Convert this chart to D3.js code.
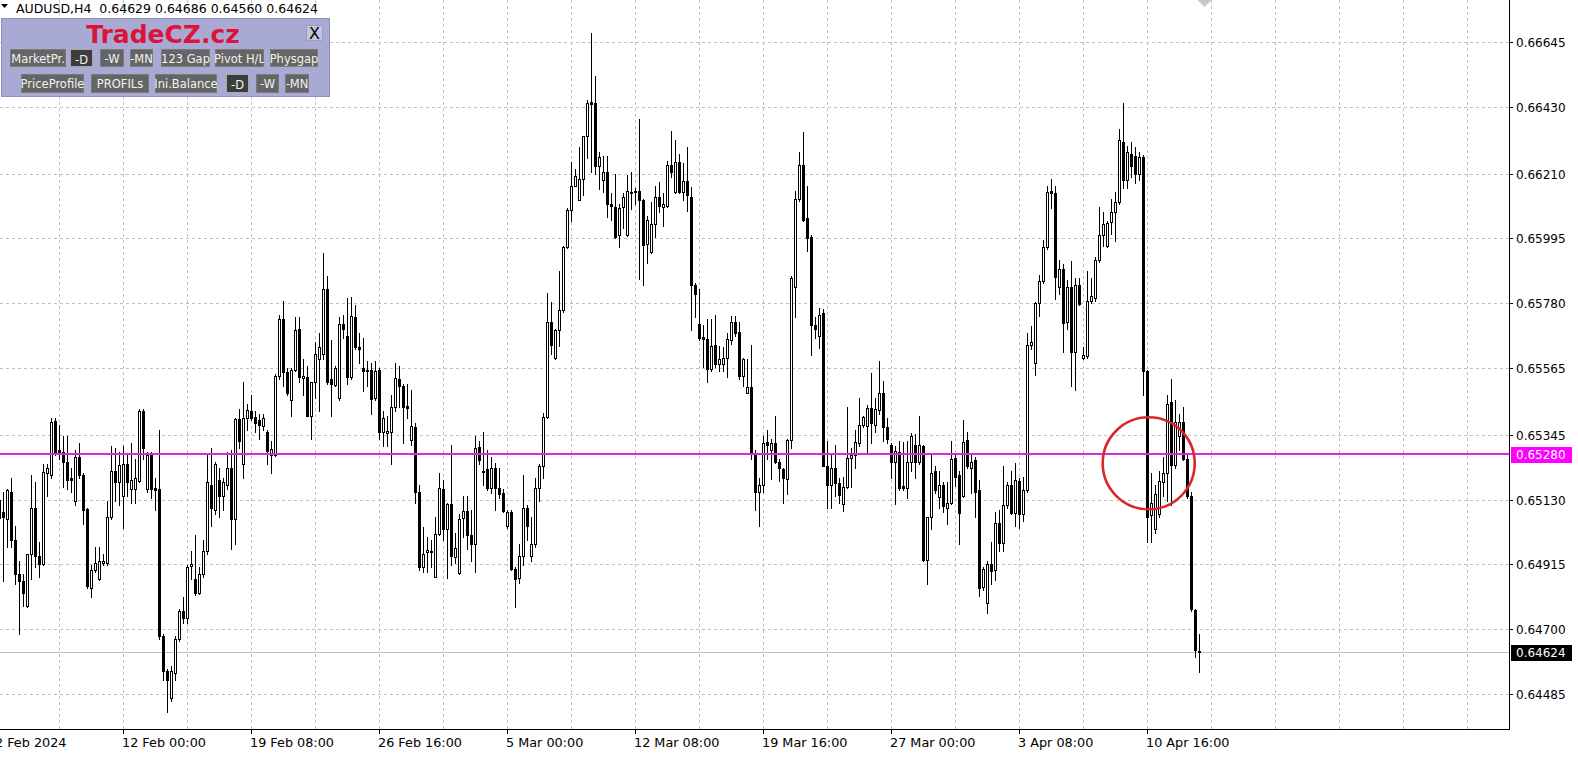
<!DOCTYPE html>
<html><head><meta charset="utf-8">
<script src="https://cdn.jsdelivr.net/npm/d3@7"></script>
<style>
html,body{margin:0;padding:0;background:#fff;overflow:hidden}
svg{display:block}
text{font-family:"DejaVu Sans",sans-serif}
</style></head><body>
<svg id="c" width="1578" height="758"></svg>
<script>
// ---------------- DATA ----------------
const headerSymbol = "AUDUSD,H4";
const headerOHLC = ["0.64629", "0.64686", "0.64560", "0.64624"];

// H4 bars, first (partly hidden) bar = index 0, last bar = 12 Apr 2024 16:00
const opens = [
0.65129,0.65088,0.65065,0.65156,0.64997,0.64882,0.64859,0.64776,0.64950,0.65103,
0.64943,0.64915,0.65217,0.65210,0.65391,0.65293,0.65286,0.65255,0.65202,0.65126,
0.65270,0.65210,0.65099,0.64836,0.64897,0.64867,0.64920,0.64920,0.65073,0.65225,
0.65187,0.65141,0.65248,0.65164,0.65164,0.65190,0.65422,0.65164,0.65278,0.65169,
0.65164,0.64677,0.64563,0.64472,0.64555,0.64669,0.64760,0.64738,0.64909,0.64867,
0.64821,0.64882,0.64958,0.65179,0.65096,0.65195,0.65141,0.65179,0.65233,0.65065,
0.65397,0.65248,0.65400,0.65422,0.65403,0.65392,0.65372,0.65354,0.65278,0.65278,
0.65540,0.65727,0.65552,0.65461,0.65559,0.65696,0.65534,0.65537,0.65407,0.65518,
0.65597,0.65613,0.65826,0.65529,0.65509,0.65468,0.65711,0.65673,0.65537,0.65735,
0.65635,0.65567,0.65559,0.65559,0.65468,0.65559,0.65354,0.65351,0.65354,0.65438,
0.65529,0.65506,0.65439,0.65327,0.65369,0.65156,0.64905,0.64955,0.64955,0.64874,
0.65017,0.65164,0.65032,0.65114,0.64940,0.64885,0.65068,0.65093,0.65012,0.64982,
0.65305,0.65220,0.65230,0.65169,0.65233,0.65169,0.65153,0.65043,0.65088,0.64900,
0.64870,0.64943,0.65103,0.64943,0.64982,0.65169,0.65240,0.65403,0.65719,0.65600,
0.65692,0.65758,0.65966,0.66091,0.66170,0.66123,0.66191,0.66333,0.66448,0.66443,
0.66234,0.66188,0.66214,0.66108,0.66100,0.66006,0.66100,0.66006,0.66146,0.66149,
0.66153,0.66123,0.65978,0.65951,0.66042,0.66133,0.66100,0.66103,0.66237,0.66149,
0.66249,0.66149,0.66186,0.66133,0.65842,0.65710,0.65670,0.65661,0.65564,0.65643,
0.65579,0.65579,0.65600,0.65658,0.65719,0.65686,0.65540,0.65483,0.65503,0.65278,
0.65156,0.65179,0.65321,0.65293,0.65316,0.65255,0.65230,0.65199,0.65327,0.65834,
0.66127,0.66237,0.66062,0.66001,0.65707,0.65673,0.65747,0.65240,0.65179,0.65236,
0.65184,0.65114,0.65172,0.65266,0.65278,0.65316,0.65377,0.65372,0.65433,0.65377,
0.65427,0.65483,0.65369,0.65312,0.65255,0.65286,0.65175,0.65169,0.65255,0.65312,
0.65255,0.65309,0.64931,0.65073,0.65225,0.65138,0.65179,0.65103,0.65118,0.65266,
0.65210,0.65141,0.65327,0.65236,0.65260,0.65160,0.64839,0.64788,0.64915,0.64897,
0.65053,0.64986,0.65111,0.65179,0.65084,0.65190,0.65081,0.65160,0.65643,0.65582,
0.65781,0.65854,0.65966,0.66153,0.66146,0.65834,0.65895,0.65719,0.65834,0.65620,
0.65842,0.65600,0.65605,0.65788,0.65799,0.65925,0.66006,0.65971,0.66051,0.66082,
0.66115,0.66316,0.66188,0.66275,0.66267,0.66210,0.66264,0.65555,0.65078,0.65032,
0.65081,0.65187,0.65217,0.65453,0.65245,0.65342,0.65388,0.65263,0.65141,0.64763,
0.64629];
const highs = [
0.65141,0.65156,0.65164,0.65202,0.65043,0.64928,0.64882,0.64950,0.65210,0.65187,
0.64989,0.65248,0.65248,0.65400,0.65400,0.65377,0.65339,0.65339,0.65233,0.65293,
0.65316,0.65217,0.65103,0.64912,0.64974,0.64974,0.64950,0.65126,0.65309,0.65301,
0.65286,0.65309,0.65278,0.65316,0.65263,0.65430,0.65430,0.65286,0.65286,0.65202,
0.65362,0.64684,0.64570,0.64578,0.64677,0.64768,0.64806,0.64912,0.64958,0.65012,
0.64905,0.64997,0.65278,0.65301,0.65255,0.65233,0.65202,0.65286,0.65293,0.65400,
0.65430,0.65521,0.65445,0.65476,0.65422,0.65415,0.65415,0.65362,0.65324,0.65547,
0.65743,0.65788,0.65567,0.65567,0.65735,0.65735,0.65597,0.65574,0.65521,0.65651,
0.65681,0.65948,0.65872,0.65658,0.65574,0.65735,0.65743,0.65799,0.65802,0.65773,
0.65681,0.65666,0.65590,0.65582,0.65590,0.65567,0.65422,0.65407,0.65476,0.65582,
0.65574,0.65514,0.65512,0.65494,0.65385,0.65179,0.65038,0.65005,0.64997,0.65073,
0.65217,0.65195,0.65118,0.65312,0.65020,0.65081,0.65141,0.65141,0.65096,0.65339,
0.65324,0.65354,0.65293,0.65270,0.65251,0.65236,0.65164,0.65096,0.65096,0.64905,
0.64982,0.65210,0.65111,0.65073,0.65202,0.65248,0.65418,0.65814,0.65784,0.65696,
0.65887,0.65971,0.66095,0.66249,0.66226,0.66298,0.66336,0.66454,0.66675,0.66534,
0.66282,0.66267,0.66267,0.66146,0.66210,0.66108,0.66146,0.66206,0.66214,0.66161,
0.66390,0.66127,0.66070,0.66115,0.66168,0.66183,0.66146,0.66252,0.66352,0.66320,
0.66275,0.66244,0.66298,0.66164,0.65849,0.65826,0.65707,0.65727,0.65727,0.65743,
0.65640,0.65635,0.65681,0.65738,0.65738,0.65719,0.65600,0.65597,0.65643,0.65293,
0.65202,0.65339,0.65362,0.65331,0.65407,0.65263,0.65236,0.65331,0.65872,0.66153,
0.66282,0.66347,0.66168,0.66006,0.65735,0.65765,0.65762,0.65324,0.65278,0.65312,
0.65202,0.65205,0.65438,0.65301,0.65362,0.65468,0.65407,0.65442,0.65549,0.65468,
0.65590,0.65524,0.65400,0.65316,0.65309,0.65324,0.65321,0.65324,0.65351,0.65346,
0.65407,0.65312,0.65073,0.65278,0.65240,0.65225,0.65187,0.65187,0.65324,0.65278,
0.65225,0.65392,0.65354,0.65278,0.65270,0.65195,0.64905,0.64925,0.64989,0.65088,
0.65096,0.65240,0.65187,0.65225,0.65251,0.65202,0.65205,0.65681,0.65704,0.65784,
0.65875,0.65991,0.66168,0.66191,0.66168,0.65925,0.65910,0.65857,0.65920,0.65864,
0.65864,0.65635,0.65887,0.65864,0.65933,0.66100,0.66082,0.66054,0.66127,0.66149,
0.66359,0.66443,0.66301,0.66313,0.66298,0.66282,0.66270,0.65559,0.65217,0.65179,
0.65225,0.65270,0.65476,0.65529,0.65461,0.65415,0.65438,0.65278,0.65156,0.64768,
0.64686];
const lows = [
0.65035,0.64859,0.64974,0.64974,0.64851,0.64684,0.64776,0.64773,0.64867,0.64905,
0.64874,0.64912,0.65141,0.65202,0.65278,0.65263,0.65172,0.65164,0.65156,0.65111,
0.65202,0.65050,0.64836,0.64806,0.64890,0.64864,0.64912,0.64912,0.65065,0.65126,
0.65111,0.65035,0.65141,0.65118,0.65118,0.65187,0.65263,0.65156,0.65134,0.65096,
0.64669,0.64532,0.64426,0.64464,0.64532,0.64661,0.64722,0.64722,0.64867,0.64813,
0.64818,0.64874,0.64950,0.65043,0.65081,0.65073,0.65096,0.65164,0.64966,0.64982,
0.65301,0.65202,0.65362,0.65392,0.65354,0.65331,0.65362,0.65248,0.65217,0.65275,
0.65529,0.65506,0.65476,0.65407,0.65555,0.65521,0.65476,0.65407,0.65331,0.65468,
0.65422,0.65597,0.65514,0.65407,0.65506,0.65461,0.65666,0.65514,0.65529,0.65628,
0.65582,0.65491,0.65506,0.65415,0.65461,0.65331,0.65309,0.65309,0.65248,0.65422,
0.65438,0.65316,0.65400,0.65312,0.65118,0.64897,0.64890,0.64890,0.64905,0.64873,
0.65012,0.64997,0.64870,0.64912,0.64920,0.64882,0.65005,0.64966,0.64928,0.64890,
0.65248,0.65179,0.65160,0.65153,0.65096,0.65134,0.65088,0.65035,0.64897,0.64773,
0.64855,0.64912,0.64997,0.64928,0.64974,0.65126,0.65202,0.65400,0.65613,0.65597,
0.65640,0.65753,0.65963,0.66054,0.66168,0.66121,0.66138,0.66260,0.66214,0.66210,
0.66158,0.66149,0.66066,0.66057,0.65997,0.65966,0.66031,0.66003,0.66092,0.66108,
0.65860,0.65842,0.65914,0.65948,0.66001,0.66082,0.66036,0.66100,0.66199,0.66146,
0.66146,0.66123,0.66085,0.65692,0.65735,0.65658,0.65570,0.65521,0.65555,0.65570,
0.65555,0.65555,0.65537,0.65646,0.65673,0.65529,0.65506,0.65482,0.65263,0.65096,
0.65043,0.65156,0.65263,0.65199,0.65251,0.65190,0.65118,0.65149,0.65301,0.65735,
0.66118,0.66054,0.65955,0.65609,0.65666,0.65631,0.65240,0.65103,0.65103,0.65141,
0.65118,0.65093,0.65169,0.65172,0.65233,0.65309,0.65369,0.65281,0.65316,0.65354,
0.65415,0.65324,0.65316,0.65202,0.65114,0.65160,0.65160,0.65134,0.65225,0.65202,
0.65248,0.64925,0.64851,0.65032,0.65153,0.65103,0.65088,0.65050,0.65114,0.65175,
0.64982,0.65138,0.65233,0.65153,0.65073,0.64809,0.64829,0.64753,0.64851,0.64864,
0.64958,0.64958,0.65103,0.65081,0.65043,0.65035,0.65058,0.65156,0.65628,0.65544,
0.65738,0.65849,0.65960,0.66097,0.65793,0.65811,0.65620,0.65696,0.65506,0.65494,
0.65773,0.65597,0.65600,0.65781,0.65788,0.65918,0.65971,0.65966,0.66009,0.65986,
0.66108,0.66161,0.66161,0.66199,0.66179,0.66188,0.65476,0.64989,0.64989,0.65020,
0.65073,0.65141,0.65126,0.65111,0.65233,0.65293,0.65260,0.65134,0.64760,0.64608,
0.64560];
const closes = [
0.65068,0.65073,0.65160,0.64997,0.64882,0.64859,0.64821,0.64950,0.65103,0.64943,
0.64915,0.65220,0.65233,0.65388,0.65286,0.65289,0.65255,0.65195,0.65195,0.65270,
0.65210,0.65096,0.64844,0.64897,0.64920,0.64928,0.64928,0.65073,0.65225,0.65187,
0.65245,0.65248,0.65187,0.65195,0.65202,0.65422,0.65301,0.65278,0.65164,0.65160,
0.64677,0.64563,0.64532,0.64563,0.64669,0.64760,0.64738,0.64905,0.64915,0.64821,
0.64882,0.64958,0.65187,0.65103,0.65248,0.65141,0.65187,0.65233,0.65065,0.65397,
0.65324,0.65400,0.65427,0.65400,0.65385,0.65377,0.65400,0.65290,0.65296,0.65540,
0.65727,0.65552,0.65483,0.65559,0.65692,0.65537,0.65540,0.65407,0.65518,0.65613,
0.65635,0.65826,0.65521,0.65514,0.65567,0.65711,0.65696,0.65537,0.65738,0.65635,
0.65628,0.65555,0.65555,0.65464,0.65555,0.65354,0.65400,0.65357,0.65438,0.65532,
0.65506,0.65438,0.65433,0.65372,0.65156,0.64905,0.64950,0.64962,0.64958,0.65017,
0.65169,0.65032,0.65114,0.64943,0.64971,0.65065,0.65093,0.65012,0.64982,0.65301,
0.65260,0.65225,0.65169,0.65233,0.65169,0.65149,0.65093,0.65088,0.64900,0.64867,
0.64943,0.65103,0.65043,0.64982,0.65169,0.65240,0.65403,0.65719,0.65643,0.65692,
0.65758,0.65966,0.66091,0.66170,0.66202,0.66191,0.66333,0.66443,0.66441,0.66234,
0.66264,0.66214,0.66108,0.66103,0.66001,0.66097,0.66133,0.66153,0.66149,0.66152,
0.66123,0.65975,0.66057,0.66042,0.66133,0.66103,0.66108,0.66237,0.66214,0.66249,
0.66149,0.66186,0.66138,0.65842,0.65811,0.65666,0.65661,0.65564,0.65640,0.65579,
0.65597,0.65600,0.65661,0.65719,0.65681,0.65540,0.65594,0.65503,0.65281,0.65156,
0.65179,0.65316,0.65312,0.65316,0.65255,0.65233,0.65202,0.65327,0.65864,0.66127,
0.66237,0.66057,0.65997,0.65707,0.65696,0.65743,0.65240,0.65179,0.65236,0.65184,
0.65144,0.65172,0.65266,0.65278,0.65321,0.65377,0.65403,0.65433,0.65385,0.65430,
0.65483,0.65369,0.65331,0.65255,0.65290,0.65169,0.65169,0.65255,0.65342,0.65255,
0.65312,0.64931,0.65073,0.65217,0.65160,0.65179,0.65108,0.65118,0.65263,0.65205,
0.65084,0.65321,0.65240,0.65255,0.65156,0.64836,0.64900,0.64915,0.64894,0.65053,
0.64986,0.65111,0.65179,0.65084,0.65195,0.65081,0.65160,0.65643,0.65651,0.65781,
0.65854,0.65966,0.66149,0.66146,0.65869,0.65895,0.65716,0.65834,0.65620,0.65842,
0.65778,0.65609,0.65788,0.65804,0.65925,0.66006,0.66042,0.66047,0.66082,0.66115,
0.66320,0.66188,0.66282,0.66234,0.66210,0.66264,0.65555,0.65073,0.65118,0.65149,
0.65190,0.65217,0.65448,0.65245,0.65388,0.65388,0.65263,0.65141,0.64768,0.64631,
0.64624];

const priceTicks = ["0.66645","0.66430","0.66210","0.65995","0.65780","0.65565","0.65345","0.65130","0.64915","0.64700","0.64485"];
const timeLabels = ["2 Feb 2024","12 Feb 00:00","19 Feb 08:00","26 Feb 16:00","5 Mar 00:00","12 Mar 08:00","19 Mar 16:00","27 Mar 00:00","3 Apr 08:00","10 Apr 16:00"];
const timeLabelBars = [0,31,63,95,127,159,191,223,255,287];
const levelPrice = 0.65280;      // magenta horizontal line
const lastPrice = 0.64624;       // current bid line
const circleBar = 287.3, circlePrice = 0.65250; // red ellipse marker centre

// ---------------- LAYOUT ----------------
const W = 1578, H = 758, plotR = 1509, plotB = 729;
const svg = d3.select("#c");
const x = d3.scaleLinear().domain([0, 1]).range([-0.5, 3.5]);   // 4 px per bar
const y = d3.scaleLinear().domain([0.64485, 0.66645]).range([694.2, 42.3]);
const row = v => Math.round(y(v));

svg.append("rect").attr("width", W).attr("height", H).attr("fill", "#fff");
const defs = svg.append("defs");
defs.append("clipPath").attr("id", "plotClip").append("rect").attr("x", 0).attr("y", 0).attr("width", plotR).attr("height", plotB);

const plot = svg.append("g").attr("clip-path", "url(#plotClip)");

// grid
const gridColor = "#c0c0c0";
const gridBars = d3.range(15, 376, 16);
plot.append("g").selectAll("line").data(gridBars).join("line")
  .attr("x1", d => x(d)).attr("x2", d => x(d)).attr("y1", 0).attr("y2", plotB)
  .attr("stroke", gridColor).attr("stroke-width", 1).attr("stroke-dasharray", "3,3");
plot.append("g").selectAll("line").data(priceTicks).join("line")
  .attr("x1", 0).attr("x2", plotR).attr("y1", d => row(+d) + 0.5).attr("y2", d => row(+d) + 0.5)
  .attr("stroke", gridColor).attr("stroke-width", 1).attr("stroke-dasharray", "3,3");

// current price line (behind candles)
plot.append("line").attr("x1", 0).attr("x2", plotR)
  .attr("y1", row(lastPrice) + 0.5).attr("y2", row(lastPrice) + 0.5)
  .attr("stroke", "#c0c0c0").attr("stroke-width", 1);

// candles
const bars = d3.range(opens.length).map(i => ({i, o: opens[i], h: highs[i], l: lows[i], c: closes[i]}));
const cg = plot.append("g");
bars.forEach(b => {
  const cx = x(b.i);
  const hi = row(b.h), lo = row(b.l);
  cg.append("line").attr("x1", cx).attr("x2", cx).attr("y1", hi).attr("y2", lo + 1)
    .attr("stroke", "#000").attr("stroke-width", 1);
  const top = row(Math.max(b.o, b.c)), bot = row(Math.min(b.o, b.c));
  const bull = b.c >= b.o;
  if (bot > top) {
    cg.append("rect").attr("x", cx - 1).attr("y", top + 0.5).attr("width", 2).attr("height", bot - top)
      .attr("fill", bull ? "#fff" : "#000").attr("stroke", "#000").attr("stroke-width", 1);
  } else {
    cg.append("line").attr("x1", cx - 1.5).attr("x2", cx + 1.5).attr("y1", top + 0.5).attr("y2", top + 0.5)
      .attr("stroke", "#000").attr("stroke-width", 1);
  }
});

// magenta level line
plot.append("line").attr("x1", 0).attr("x2", plotR)
  .attr("y1", row(levelPrice)).attr("y2", row(levelPrice))
  .attr("stroke", "#dc28dc").attr("stroke-width", 2);

// red ellipse
svg.append("ellipse").attr("cx", x(circleBar)).attr("cy", y(circlePrice)).attr("rx", 46).attr("ry", 46)
  .attr("fill", "none").attr("stroke", "#d8262b").attr("stroke-width", 2.6);

// chart shift marker
svg.append("path").attr("d", `M${x(299.5)},0 L${x(303)},0 L${x(301.25)},7 Z`).attr("fill", "#c8c8c8");

// frame
svg.append("line").attr("x1", plotR + 0.5).attr("x2", plotR + 0.5).attr("y1", 0).attr("y2", plotB + 1).attr("stroke", "#000");
svg.append("line").attr("x1", 0).attr("x2", plotR + 1).attr("y1", plotB + 0.5).attr("y2", plotB + 0.5).attr("stroke", "#000");

// price axis
const ya = svg.append("g");
priceTicks.forEach(t => {
  const r = row(+t);
  ya.append("line").attr("x1", plotR + 1).attr("x2", plotR + 4).attr("y1", r + 0.5).attr("y2", r + 0.5).attr("stroke", "#000");
  ya.append("text").attr("x", 1516).attr("y", r + 0.5).attr("dy", "0.36em")
    .attr("font-size", 12).attr("fill", "#000").text(t);
});
function priceTag(v, fill, label) {
  const r = row(v);
  ya.append("rect").attr("x", plotR + 2).attr("y", r - 7).attr("width", 61).attr("height", 16).attr("fill", fill);
  ya.append("text").attr("x", 1516).attr("y", r + 1).attr("dy", "0.36em")
    .attr("font-size", 12).attr("fill", "#fff").text(label);
}
priceTag(levelPrice, "#ff00ff", d3.format(".5f")(levelPrice));
priceTag(lastPrice, "#000", d3.format(".5f")(lastPrice));

// time axis
const xa = svg.append("g");
timeLabels.forEach((t, k) => {
  const bx = x(timeLabelBars[k]);
  xa.append("line").attr("x1", bx).attr("x2", bx).attr("y1", plotB + 1).attr("y2", plotB + 5).attr("stroke", "#000");
  xa.append("text").attr("x", k === 0 ? bx - 4.5 : bx - 1.5).attr("y", 747)
    .attr("font-size", 12.8).attr("fill", "#000").text(t);
});

// header
svg.append("path").attr("d", "M1,4 L8,4 L4.5,8 Z").attr("fill", "#000");
svg.append("text").attr("x", 16).attr("y", 13).attr("font-size", 12.5).attr("fill", "#000")
  .style("white-space", "pre").text(headerSymbol + "  " + headerOHLC.join(" "));

// TradeCZ panel
const panel = svg.append("g");
panel.append("rect").attr("x", 1.5).attr("y", 18.5).attr("width", 328).attr("height", 78)
  .attr("fill", "#a9aad3").attr("stroke", "#8e90bd");
panel.append("text").attr("x", 163).attr("y", 43).attr("text-anchor", "middle")
  .attr("font-family", "'Liberation Sans',Arial,sans-serif").attr("font-weight", "bold")
  .attr("font-size", 25).attr("fill", "#dc143c").text("TradeCZ.cz");
panel.append("rect").attr("x", 306.5).attr("y", 25.5).attr("width", 16).attr("height", 15)
  .attr("fill", "#c4c5dc").attr("stroke", "#9a9cc0");
panel.append("text").attr("x", 314.5).attr("y", 39).attr("text-anchor", "middle")
  .attr("font-size", 16).attr("fill", "#000").text("X");

const buttonRows = [
  {y: 49, h: 18, items: [["MarketPr.",10,56,0],["-D",70,23,1],["-W",100,24,0],["-MN",130,23,0],["123 Gap",161,49,0],["Pivot H/L",215,49,0],["Physgap",270,48,0]]},
  {y: 74, h: 19, items: [["PriceProfile",21,63,0],["PROFILs",91,58,0],["Ini.Balance",155,62,0],["-D",226,23,1],["-W",256,23,0],["-MN",285,24,0]]}
];
buttonRows.forEach((rw, ri) => {
  rw.items.forEach((b, bi) => {
    const [label, bx, bw, dark] = b;
    const id = `bc${ri}_${bi}`;
    defs.append("clipPath").attr("id", id).append("rect").attr("x", bx).attr("y", rw.y).attr("width", bw).attr("height", rw.h);
    panel.append("rect").attr("x", bx + 0.5).attr("y", rw.y + 0.5).attr("width", bw - 1).attr("height", rw.h - 1)
      .attr("fill", dark ? "#3d3d3d" : "#656565").attr("stroke", dark ? "#a8a8a8" : "#7a7a7a");
    panel.append("text").attr("clip-path", `url(#${id})`)
      .attr("x", bx + bw / 2).attr("y", rw.y + rw.h / 2 + (dark ? 1.5 : 0.5)).attr("dy", "0.36em")
      .attr("text-anchor", "middle").attr("font-size", 11.5).attr("fill", "#f2f2f2").text(label);
  });
});
</script>
</body></html>
